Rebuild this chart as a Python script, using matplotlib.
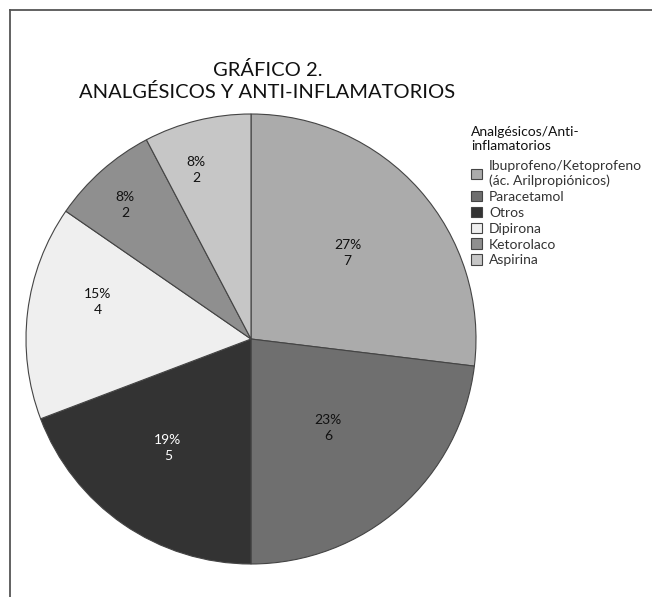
import matplotlib
matplotlib.use("Agg")
import matplotlib.pyplot as plt
from matplotlib.lines import Line2D

plt.rcParams['font.family'] = ['Lato', 'DejaVu Sans']

categories = ["Ibuprofeno/Ketoprofeno\n(ác. Arilpropiónicos)", "Paracetamol", "Otros",
              "Dipirona", "Ketorolaco", "Aspirina"]
values = [7, 6, 5, 4, 2, 2]
colors = ["#ababab", "#6f6f6f", "#333333", "#efefef", "#8f8f8f", "#c6c6c6"]
label_colors = ["#111111", "#111111", "#ffffff", "#111111", "#111111", "#111111"]
# label positions (in pie-radius units)
label_pos = [(0.43, 0.38), (0.342, -0.396), (-0.369, -0.484), (-0.68, 0.164), (-0.56, 0.596), (-0.244, 0.751)]
legend_title = "Analgésicos/Anti-\ninflamatorios"
title = "GRÁFICO 2.\nANALGÉSICOS Y ANTI-INFLAMATORIOS"

W, H = 652, 597
fig = plt.figure(figsize=(W / 100, H / 100), dpi=100)
cx, cy, r = 251, 339, 225
ax = fig.add_axes([(cx - r) / W, (H - cy - r) / H, 2 * r / W, 2 * r / H])
wedges, _ = ax.pie(values, colors=colors, startangle=90, counterclock=False, radius=1,
                   wedgeprops=dict(edgecolor="#444444", linewidth=0.8))
ax.set_xlim(-1.0, 1.0)
ax.set_ylim(-1.0, 1.0)
ax.set_aspect("equal")
ax.axis("off")

total = sum(values)
for v, (x, y), c in zip(values, label_pos, label_colors):
    ax.text(x, y, f"{round(100 * v / total)}%\n{v}", ha="center", va="center",
            fontsize=10, color=c, linespacing=1.4)

fig.text(0.41, 1 - 81 / H, title, ha="center", va="center", fontsize=14.5,
         color="#111111", linespacing=1.3)

leg = fig.legend(wedges, categories, title=legend_title, loc="upper left",
                 bbox_to_anchor=(471 / W, 1 - 126 / H), frameon=False, fontsize=10,
                 title_fontsize=10, handlelength=0.8, handleheight=0.8, handletextpad=0.5,
                 labelspacing=0.27, borderaxespad=0, borderpad=0, alignment="left")
for t in leg.get_texts():
    t.set_color("#333333")
leg.get_title().set_color("#111111")
leg._legend_box.sep = 6

fig.add_artist(Line2D([10 / W, 10 / W], [0, 1 - 10 / H], transform=fig.transFigure,
                      color="#555555", linewidth=1.3))
fig.add_artist(Line2D([10 / W, 1], [1 - 10 / H, 1 - 10 / H], transform=fig.transFigure,
                      color="#555555", linewidth=1.3))

fig.savefig("out.png", dpi=100)
